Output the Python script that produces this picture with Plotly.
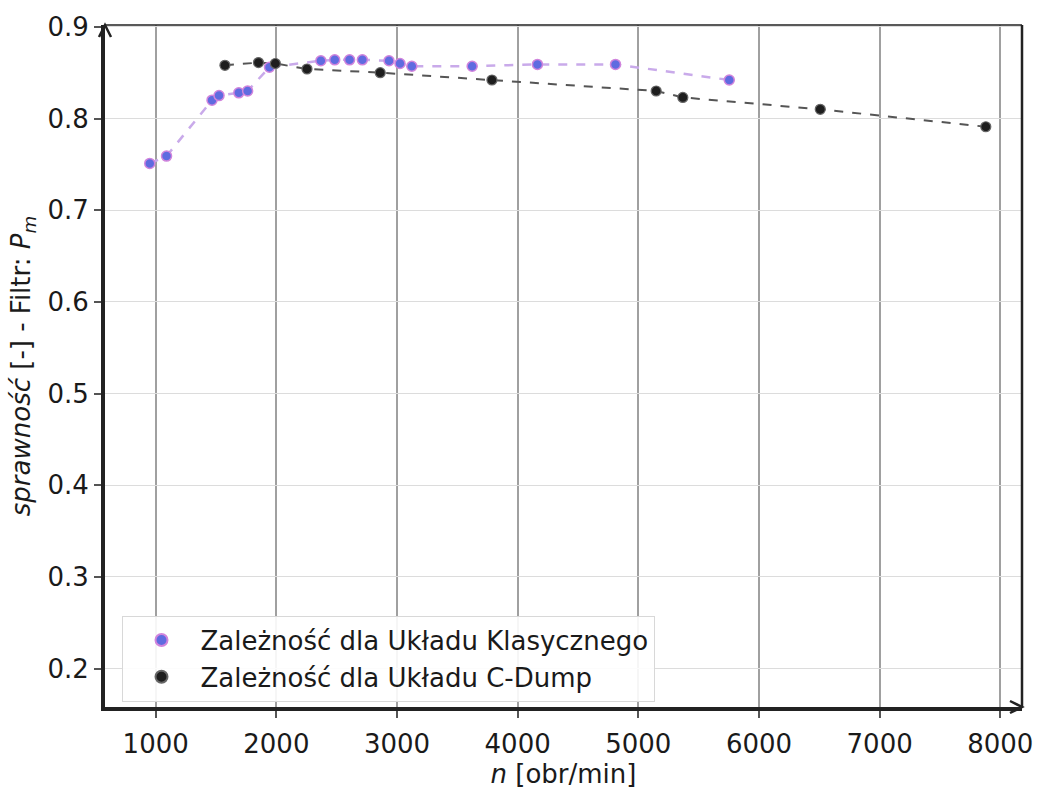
import plotly.graph_objects as go

# Engine speed [rpm] and efficiency for the two systems
n_klasyczny = [951, 1090, 1467, 1525, 1689, 1762, 1943, 2369, 2484, 2607, 2713,
               2934, 3025, 3123, 3623, 4164, 4811, 5754]
eta_klasyczny = [0.751, 0.759, 0.820, 0.825, 0.828, 0.830, 0.856, 0.863, 0.864,
                 0.864, 0.864, 0.863, 0.860, 0.857, 0.857, 0.859, 0.859, 0.842]

n_cdump = [1574, 1852, 1992, 2254, 2861, 3787, 5148, 5369, 6508, 7880]
eta_cdump = [0.858, 0.861, 0.860, 0.854, 0.850, 0.842, 0.830, 0.823, 0.810, 0.791]

x_ticks = [1000, 2000, 3000, 4000, 5000, 6000, 7000, 8000]
y_ticks = [0.2, 0.3, 0.4, 0.5, 0.6, 0.7, 0.8, 0.9]

FONT = "DejaVu Sans"

fig = go.Figure()

# dashed connecting lines (not in legend)
fig.add_trace(go.Scatter(x=n_klasyczny, y=eta_klasyczny, mode="lines",
                         line=dict(color="#c9aaea", width=2.5, dash="dash"),
                         showlegend=False, hoverinfo="skip"))
fig.add_trace(go.Scatter(x=n_cdump, y=eta_cdump, mode="lines",
                         line=dict(color="#555555", width=2, dash="dash"),
                         showlegend=False, hoverinfo="skip"))

# measured points
fig.add_trace(go.Scatter(x=n_klasyczny, y=eta_klasyczny, mode="markers",
                         name="Zależność dla Układu Klasycznego",
                         marker=dict(size=10, color="#5f6be0",
                                     line=dict(color="#d184dc", width=1.5))))
fig.add_trace(go.Scatter(x=n_cdump, y=eta_cdump, mode="markers",
                         name="Zależność dla Układu C-Dump",
                         marker=dict(size=10, color="#1e1e1e",
                                     line=dict(color="#666666", width=1.2))))

fig.update_layout(
    width=1045, height=791,
    margin=dict(l=105, r=13, t=20, b=76),
    paper_bgcolor="white", plot_bgcolor="white",
    font=dict(family=FONT, size=26, color="#1a1a1a"),
    showlegend=True,
    legend=dict(x=0.018, y=0.008, xanchor="left", yanchor="bottom",
                bgcolor="rgba(255,255,255,0.9)", bordercolor="#d8d8d8", borderwidth=1,
                font=dict(family=FONT, size=26, color="#1a1a1a"),
                itemsizing="constant", itemwidth=68, tracegroupgap=6),
    xaxis=dict(range=[580, 8180], tickvals=x_ticks,
               ticktext=[str(v) for v in x_ticks],
               showgrid=True, gridcolor="#a0a0a0", gridwidth=1.5,
               zeroline=False, showline=True, linecolor="#222222", linewidth=4,
               ticks="outside", ticklen=7, tickcolor="#555555", tickwidth=1.5,
               ticklabelstandoff=4,
               tickfont=dict(size=26, family=FONT),
               title=dict(text="<i>n</i> [obr/min]", font=dict(size=26, family=FONT),
                          standoff=2)),
    yaxis=dict(range=[0.158, 0.902], tickvals=y_ticks,
               ticktext=[f"{v:.1f}" for v in y_ticks],
               showgrid=True, gridcolor="#dcdcdc", gridwidth=1.2,
               zeroline=False, showline=True, linecolor="#222222", linewidth=4,
               ticks="outside", ticklen=7, tickcolor="#555555", tickwidth=1.5,
               tickfont=dict(size=26, family=FONT),
               title=dict(text="<i>sprawność</i> [-] - Filtr: <i>P<sub>m</sub></i>",
                          font=dict(size=26, family=FONT), standoff=10)),
)

# thin top and right frame
fig.add_shape(type="line", xref="paper", yref="paper", x0=0, x1=1, y0=1, y1=1,
              line=dict(color="#222222", width=1.5))
fig.add_shape(type="line", xref="paper", yref="paper", x0=1, x1=1, y0=0, y1=1,
              line=dict(color="#222222", width=2.5))

# open arrowheads at the ends of the axes
fig.add_shape(type="path", xref="paper", yref="paper",
              xsizemode="pixel", ysizemode="pixel", xanchor=0, yanchor=1,
              path="M -6,-12 L 0,0 L 6,-12", line=dict(color="#222222", width=2.5))
fig.add_shape(type="path", xref="paper", yref="paper",
              xsizemode="pixel", ysizemode="pixel", xanchor=1, yanchor=0,
              path="M -12,6 L 0,0 L -12,-6", line=dict(color="#222222", width=2.5))

fig.write_html("out.html")
